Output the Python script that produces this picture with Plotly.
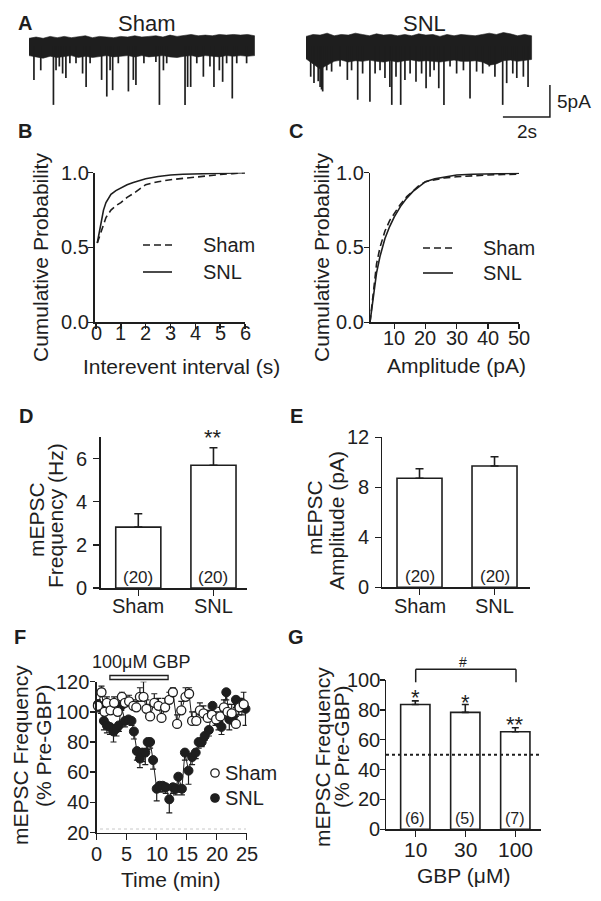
import plotly.graph_objects as go

W, H = 601, 901
FONT = "Liberation Sans, Arial, Helvetica, sans-serif"
INK = "#1e1e1e"

def fx(px):
    return px / W

def fy(py):
    return 1 - py / H

# ---------------- data ----------------
# Panel A: example traces (baseline noise envelope + miniature events)
env_t = [0.0, 0.3, 0.6, 0.9, 1.2, 1.5, 1.8, 2.1, 2.4, 2.7, 3.0, 3.3, 3.6, 3.9, 4.2, 4.5, 4.8,
         5.1, 5.4, 5.7, 6.0, 6.3, 6.6, 6.9, 7.2, 7.5, 7.8, 8.1, 8.4, 8.7, 9.0, 9.3, 9.6]
sham_env_up = [1.2, 1.4, 1.2, 1.5, 1.3, 1.5, 1.3, 1.4, 1.6, 1.3, 1.5, 1.4, 1.3, 1.5, 1.4, 1.6, 1.4,
               1.5, 1.6, 1.4, 1.7, 1.5, 1.6, 1.8, 1.6, 1.7, 1.6, 1.8, 1.7, 1.8, 1.7, 1.8, 1.6]
sham_env_lo = [-1.5, -1.7, -1.9, -1.6, -1.8, -1.7, -1.5, -1.8, -1.6, -1.8, -1.7, -1.5, -1.7, -1.6,
               -1.5, -1.7, -1.5, -1.7, -1.6, -1.5, -1.7, -1.8, -1.6, -1.5, -1.7, -1.5, -1.6, -1.7,
               -1.5, -1.6, -1.5, -1.6, -1.5]
snl_env_up = [1.5, 1.8, 1.7, 2.0, 1.6, 1.8, 1.7, 2.0, 1.8, 1.6, 1.9, 1.7, 1.8, 1.6, 1.8, 1.6, 1.9,
              1.7, 1.8, 1.5, 1.8, 1.6, 1.8, 1.7, 1.6, 1.8, 2.0, 1.8, 2.1, 1.9, 1.6, 1.8, 1.6]
snl_env_lo = [-2.0, -2.8, -3.6, -3.0, -2.4, -2.2, -2.5, -2.3, -2.4, -2.2, -2.4, -2.5, -2.3, -2.5,
              -2.3, -2.2, -2.4, -2.3, -2.4, -2.5, -2.3, -2.2, -2.4, -2.4, -2.3, -2.5, -3.0, -2.8,
              -2.3, -2.2, -2.4, -2.3, -2.1]
sham_evt_t = [0.21, 0.50, 1.04, 1.15, 1.29, 1.43, 1.57, 1.74, 2.00, 2.28, 2.43, 2.60, 3.09, 3.31,
              3.45, 3.56, 3.80, 4.23, 4.44, 4.55, 4.89, 5.40, 5.55, 5.72, 5.86, 6.64, 6.75, 6.88,
              7.14, 7.42, 7.70, 7.87, 8.10, 8.24, 8.41, 8.65, 8.84, 9.26]
sham_evt_pA = [-5.3, -3.8, -9.2, -3.8, -3.2, -4.3, -5.0, -2.7, -2.7, -4.3, -6.4, -2.7, -5.3, -7.9,
               -3.8, -6.9, -2.7, -7.1, -5.3, -6.1, -2.7, -2.5, -9.2, -3.8, -2.7, -9.2, -6.4, -6.4,
               -2.7, -4.8, -3.2, -6.4, -3.8, -5.6, -2.7, -8.2, -2.7, -2.7]
snl_evt_t = [0.20, 0.34, 0.52, 0.60, 0.66, 0.71, 0.88, 1.09, 1.45, 1.76, 1.94, 2.20, 2.41, 2.72,
             2.94, 3.15, 3.36, 3.57, 3.65, 3.83, 4.03, 4.21, 4.43, 4.68, 4.92, 5.11, 5.28, 5.45,
             5.65, 5.87, 6.13, 6.41, 6.70, 6.98, 7.26, 7.52, 7.80, 8.04, 8.37, 8.54, 8.80, 8.97,
             9.25, 9.45]
snl_evt_pA = [-4.8, -5.8, -5.5, -6.4, -6.8, -7.1, -3.8, -4.0, -3.2, -5.3, -3.8, -8.4, -4.3, -8.7,
              -4.3, -3.8, -5.0, -6.4, -9.2, -4.8, -9.2, -5.3, -4.3, -5.6, -4.3, -6.6, -4.8, -3.8,
              -6.6, -9.2, -3.2, -4.3, -3.8, -8.2, -4.0, -4.3, -3.2, -4.8, -9.2, -5.8, -4.3, -5.0,
              -4.8, -6.4]
scale_bar_s = 2
scale_bar_pA = 5

# Panel B: cumulative interevent interval
iei_s = [0.05, 0.2, 0.3, 0.4, 0.5, 0.6, 0.8, 1.0, 1.25, 1.5, 2.0, 2.5, 3.0, 3.5, 4.0, 4.5, 5.0, 5.5, 6.0]
iei_cum_sham = [0.53, 0.60, 0.66, 0.70, 0.725, 0.75, 0.78, 0.80, 0.835, 0.86, 0.92, 0.94, 0.953,
                0.963, 0.972, 0.98, 0.988, 0.994, 1.0]
iei_cum_snl = [0.53, 0.67, 0.75, 0.80, 0.83, 0.855, 0.88, 0.897, 0.92, 0.935, 0.96, 0.975, 0.985,
               0.99, 0.993, 0.996, 0.998, 1.0, 1.0]
iei_ticks = [0, 1, 2, 3, 4, 5, 6]
prob_ticks = [0, 0.5, 1.0]
prob_labels = ["0.0", "0.5", "1.0"]

# Panel C: cumulative amplitude
amp_pA = [2.2, 3.3, 4.3, 5.4, 7, 8.5, 10, 12, 14, 16, 18, 20, 23, 26, 30, 35, 40, 45, 50]
amp_cum_sham = [0, 0.22, 0.39, 0.50, 0.61, 0.68, 0.73, 0.79, 0.84, 0.88, 0.915, 0.94, 0.955,
                0.965, 0.973, 0.98, 0.985, 0.988, 0.99]
amp_cum_snl = [0, 0.17, 0.33, 0.44, 0.56, 0.64, 0.705, 0.775, 0.83, 0.875, 0.91, 0.94, 0.96,
               0.972, 0.985, 0.99, 0.993, 0.995, 0.996]
amp_ticks = [10, 20, 30, 40, 50]

# Panels D, E
groups = ["Sham", "SNL"]
freq_hz = [2.82, 5.69]
freq_sem = [0.62, 0.81]
freq_ticks = [0, 2, 4, 6]
amp_mean = [8.72, 9.70]
amp_sem = [0.77, 0.75]
amp_bar_ticks = [0, 4, 8, 12]
n_cells = [20, 20]

# Panel F: time course of GBP effect
sham_time = [0.2, 0.8, 1.3, 1.7, 2.3, 2.9, 3.5, 4.2, 4.7, 5.4, 6.1, 6.6, 7.2, 7.8, 8.3, 8.9, 9.6,
             10.3, 10.8, 11.4, 12.1, 12.7, 13.4, 14.1, 14.8, 15.4, 15.9, 16.6, 17.2, 17.8, 18.5,
             19.2, 19.9, 20.6, 21.2, 21.8, 22.5, 23.2, 23.8, 24.5]
sham_pct = [104, 113, 100, 106, 101, 106, 100, 110, 106, 107, 104, 103, 110, 110, 102, 97, 106,
            104, 96, 103, 108, 113, 92, 101, 110, 112, 94, 94, 101, 99, 96, 98, 95, 97, 103, 100,
            99, 92, 103, 105]
sham_sem = [4, 4, 5, 4, 4, 4, 5, 3, 4, 4, 4, 4, 6, 10, 6, 8, 6, 5, 8, 6, 5, 3, 6, 6, 6, 4, 6, 6,
            5, 5, 5, 5, 5, 6, 5, 5, 6, 5, 6, 8]
snl_time = [0.2, 0.7, 1.2, 1.7, 2.2, 2.8, 3.3, 3.7, 4.1, 4.7, 5.3, 5.8, 6.2, 6.7, 7.2, 7.6, 8.1,
            8.5, 8.9, 9.4, 10.0, 10.5, 11.0, 11.5, 12.1, 12.7, 13.2, 13.6, 14.2, 14.7, 15.3, 15.9,
            16.5, 17.0, 17.5, 18.0, 18.7, 19.3, 19.8, 20.3, 20.8, 21.6, 22.1, 22.6, 23.2, 23.7,
            24.2, 24.8]
snl_pct = [105, 103, 94, 91, 90, 87, 89, 91, 104, 94, 95, 94, 87, 74, 69, 73, 73, 80, 80, 68, 49,
           51, 51, 50, 42, 50, 49, 57, 49, 73, 61, 70, 73, 80, 80, 84, 88, 104, 96, 93, 90, 113,
           95, 97, 108, 104, 106, 102]
snl_sem = [5, 4, 6, 5, 5, 7, 5, 4, 3, 4, 3, 3, 5, 6, 6, 6, 8, 5, 4, 6, 8, 4, 4, 4, 9, 4, 4, 5, 4,
           5, 9, 5, 4, 4, 3, 3, 4, 4, 5, 5, 5, 5, 7, 5, 5, 6, 8, 11]
gbp_on_min, gbp_off_min = 2.2, 11.9
time_ticks = [0, 5, 10, 15, 20, 25]
pct_ticks_f = [20, 40, 60, 80, 100, 120]

# Panel G: dose response
gbp_doses = ["10", "30", "100"]
gbp_pct = [83.6, 78.3, 65.3]
gbp_sem = [2.4, 5.3, 2.7]
gbp_n = [6, 5, 7]
half_effect = 50
pct_ticks_g = [0, 20, 40, 60, 80, 100]

# ---------------- figure ----------------
fig = go.Figure()

def seg_xy(ts, amps):
    xs, ys = [], []
    for t, a in zip(ts, amps):
        xs += [t, t, None]
        ys += [0, a, None]
    return xs, ys

for (up, lo, et, ea, xa, ya) in [
    (sham_env_up, sham_env_lo, sham_evt_t, sham_evt_pA, "x", "y"),
    (snl_env_up, snl_env_lo, snl_evt_t, snl_evt_pA, "x2", "y2"),
]:
    fig.add_trace(go.Scatter(x=env_t + env_t[::-1], y=up + lo[::-1], fill="toself",
                             fillcolor=INK, line=dict(color=INK, width=0.6), mode="lines",
                             xaxis=xa, yaxis=ya, hoverinfo="skip"))
    sx, sy = seg_xy(et, ea)
    fig.add_trace(go.Scatter(x=sx, y=sy, mode="lines", line=dict(color=INK, width=1.7),
                             xaxis=xa, yaxis=ya, hoverinfo="skip"))

# scale bar (drawn in SNL trace axis)
sb_x1 = 10.38
sb_y0 = -11.09
fig.add_trace(go.Scatter(x=[sb_x1 - scale_bar_s, sb_x1, sb_x1],
                         y=[sb_y0, sb_y0, sb_y0 + scale_bar_pA], mode="lines",
                         line=dict(color=INK, width=1.5), xaxis="x2", yaxis="y2"))

# Panel B
fig.add_trace(go.Scatter(x=iei_s, y=iei_cum_sham, mode="lines",
                         line=dict(color=INK, width=1.6, dash="7px,4px"), xaxis="x3", yaxis="y3"))
fig.add_trace(go.Scatter(x=iei_s, y=iei_cum_snl, mode="lines",
                         line=dict(color=INK, width=1.6), xaxis="x3", yaxis="y3"))
# Panel C
fig.add_trace(go.Scatter(x=amp_pA, y=amp_cum_sham, mode="lines",
                         line=dict(color=INK, width=1.6, dash="7px,4px"), xaxis="x4", yaxis="y4"))
fig.add_trace(go.Scatter(x=amp_pA, y=amp_cum_snl, mode="lines",
                         line=dict(color=INK, width=1.6), xaxis="x4", yaxis="y4"))

def bar(xcats, vals, errs, xa, ya, width, cap):
    return go.Bar(x=xcats, y=vals, width=width, xaxis=xa, yaxis=ya,
                  marker=dict(color="white", line=dict(color=INK, width=1.6)),
                  error_y=dict(type="data", array=errs, arrayminus=[0] * len(errs),
                               symmetric=False, color=INK, thickness=1.6, width=cap))

fig.add_trace(bar(groups, freq_hz, freq_sem, "x5", "y5", 0.6, 4))
fig.add_trace(bar(groups, amp_mean, amp_sem, "x6", "y6", 0.6, 4))
fig.add_trace(bar(gbp_doses, gbp_pct, gbp_sem, "x8", "y8", 0.586, 3.5))

# Panel F
fig.add_trace(go.Scatter(x=snl_time, y=snl_pct, mode="lines+markers", xaxis="x7", yaxis="y7",
                         line=dict(color=INK, width=1),
                         marker=dict(symbol="circle", size=9, color=INK, line=dict(color=INK, width=1)),
                         error_y=dict(type="data", array=[0] * len(snl_sem), arrayminus=snl_sem,
                                      symmetric=False, color=INK, thickness=1.2, width=3),
                         cliponaxis=False))
fig.add_trace(go.Scatter(x=sham_time, y=sham_pct, mode="lines+markers", xaxis="x7", yaxis="y7",
                         line=dict(color=INK, width=1),
                         marker=dict(symbol="circle", size=9, color="white", line=dict(color=INK, width=1.3)),
                         error_y=dict(type="data", array=sham_sem, arrayminus=[0] * len(sham_sem),
                                      symmetric=False, color=INK, thickness=1.2, width=3),
                         cliponaxis=False))

# ---------------- axes ----------------
def ax_common(**kw):
    d = dict(showline=True, linecolor=INK, linewidth=1.5, ticks="outside", ticklen=5,
             tickwidth=1.5, tickcolor=INK, showgrid=False, zeroline=False, fixedrange=True,
             automargin=False, showticklabels=False)
    d.update(kw)
    return d

def xdom(a, b):
    return [fx(a), fx(b)]

def ydom(top, bottom):
    return [fy(bottom), fy(top)]

hidden = dict(visible=False, automargin=False, fixedrange=True)

layout = dict(
    template="none",
    width=W, height=H, autosize=False, margin=dict(l=0, r=0, t=0, b=0, pad=0),
    paper_bgcolor="white", plot_bgcolor="rgba(0,0,0,0)", showlegend=False,
    font=dict(family=FONT, color=INK),
    # panel A
    xaxis=dict(domain=xdom(29, 255), range=[0, 9.617], anchor="y", **hidden),
    yaxis=dict(domain=ydom(20, 130), range=[-13.125, 4.0625], anchor="x", **hidden),
    xaxis2=dict(domain=xdom(306, 560), range=[0, 10.809], anchor="y2", **hidden),
    yaxis2=dict(domain=ydom(20, 130), range=[-13.125, 4.0625], anchor="x2", **hidden),
    # panel B
    xaxis3=ax_common(domain=xdom(94.8, 245), range=[-0.05, 6.0], tickvals=iei_ticks, anchor="y3"),
    yaxis3=ax_common(domain=ydom(172.7, 322.3), range=[0, 1], tickvals=prob_ticks, anchor="x3"),
    # panel C
    xaxis4=ax_common(domain=xdom(370, 519), range=[2.2, 50], tickvals=amp_ticks, anchor="y4"),
    yaxis4=ax_common(domain=ydom(172.7, 322.3), range=[0, 1], tickvals=prob_ticks, anchor="x4"),
    # panel D
    xaxis5=ax_common(domain=xdom(100.7, 247.3), range=[-0.5, 1.45], anchor="y5", ticklen=6,
                     type="category"),
    yaxis5=ax_common(domain=ydom(437, 588), range=[0, 7], tickvals=freq_ticks, anchor="x5",
                     ticklen=6),
    # panel E
    xaxis6=ax_common(domain=xdom(382, 530), range=[-0.5, 1.473], anchor="y6", ticklen=6,
                     type="category"),
    yaxis6=ax_common(domain=ydom(437.3, 587.3), range=[0, 12], tickvals=amp_bar_ticks,
                     anchor="x6", ticklen=6),
    # panel F
    xaxis7=ax_common(domain=xdom(96.7, 246.7), range=[0, 25], tickvals=time_ticks,
                     anchor="y7", ticklen=6),
    yaxis7=ax_common(domain=ydom(681.7, 832.5), range=[20, 120], tickvals=pct_ticks_f,
                     anchor="x7"),
    # panel G
    xaxis8=ax_common(domain=xdom(386, 540.7), range=[-0.586, 2.508], anchor="y8", ticklen=6,
                     type="category"),
    yaxis8=ax_common(domain=ydom(680, 829.3), range=[0, 100], tickvals=pct_ticks_g,
                     anchor="x8"),
)

# ---------------- annotations ----------------
anns = []

def ann(text, x, y, size=20, xanchor="center", yanchor="middle", bold=False, angle=0):
    if bold:
        text = "<b>" + text + "</b>"
    anns.append(dict(text=text, x=fx(x), y=fy(y), xref="paper", yref="paper", showarrow=False,
                     xanchor=xanchor, yanchor=yanchor, textangle=angle,
                     font=dict(family=FONT, size=size, color=INK)))

def xtick_labels(xref, vals, texts, y_px, size=20):
    for v, t in zip(vals, texts):
        anns.append(dict(text=t, x=v, xref=xref, y=fy(y_px), yref="paper", showarrow=False,
                         xanchor="center", yanchor="middle",
                         font=dict(family=FONT, size=size, color=INK)))

def ytick_labels(yref, vals, texts, x_px, size=20):
    for v, t in zip(vals, texts):
        anns.append(dict(text=t, x=fx(x_px), xref="paper", y=v, yref=yref, showarrow=False,
                         xanchor="right", yanchor="middle",
                         font=dict(family=FONT, size=size, color=INK)))

# tick labels (category axes addressed by category index)
xtick_labels("x3", iei_ticks, [str(v) for v in iei_ticks], 333)
ytick_labels("y3", prob_ticks, prob_labels, 91)
xtick_labels("x4", amp_ticks, [str(v) for v in amp_ticks], 338)
ytick_labels("y4", prob_ticks, prob_labels, 366)
xtick_labels("x5", list(range(len(groups))), groups, 606)
ytick_labels("y5", freq_ticks, [str(v) for v in freq_ticks], 89)
xtick_labels("x6", list(range(len(groups))), groups, 606)
ytick_labels("y6", amp_bar_ticks, [str(v) for v in amp_bar_ticks], 371)
xtick_labels("x7", time_ticks, [str(v) for v in time_ticks], 854)
ytick_labels("y7", pct_ticks_f, [str(v) for v in pct_ticks_f], 91)
xtick_labels("x8", list(range(len(gbp_doses))), gbp_doses, 849, size=21)
ytick_labels("y8", pct_ticks_g, [str(v) for v in pct_ticks_g], 382)

# panel letters
for letter, x, y in [("A", 16, 23), ("B", 16, 131), ("C", 287, 131), ("D", 17, 416),
                     ("E", 288, 416), ("F", 12, 637), ("G", 286, 637)]:
    ann(letter, x, y, size=20, xanchor="left", bold=True)

# panel A
ann("Sham", 146, 24, size=22)
ann("SNL", 424, 24, size=22)
ann("5pA", 555, 102, size=19, xanchor="left")
ann("2s", 527, 131, size=19)

# panel B / C titles
ann("Cumulative Probability", 40, 258, size=21, angle=-90)
ann("Interevent interval (s)", 181, 366, size=21)
ann("Cumulative Probability", 321, 258, size=21, angle=-90)
ann("Amplitude (pA)", 456, 365, size=21)

# legends B/C (text)
ann("Sham", 201, 245, size=20, xanchor="left")
ann("SNL", 201, 272, size=20, xanchor="left")
ann("Sham", 481, 248, size=20, xanchor="left")
ann("SNL", 481, 273, size=20, xanchor="left")

# D / E titles
ann("mEPSC", 36, 520, size=21, angle=-90)
ann("Frequency (Hz)", 55, 516, size=21, angle=-90)
ann("mEPSC", 314, 518, size=21, angle=-90)
ann("Amplitude (pA)", 336, 520, size=21, angle=-90)
ann("**", 213, 437, size=22)
for x, n in [(138.3, n_cells[0]), (213.3, n_cells[1])]:
    ann("(%d)" % n, x, 577, size=17)
for x, n in [(419.5, n_cells[0]), (494.5, n_cells[1])]:
    ann("(%d)" % n, x, 576, size=17)

# F
ann("mEPSC Frequency", 20, 755, size=21, angle=-90)
ann("(% Pre-GBP)", 43, 746, size=21, angle=-90)
ann("Time (min)", 171, 879, size=21)
ann("100\u03bcM GBP", 141, 662, size=18)
ann("Sham", 223, 773, size=20, xanchor="left")
ann("SNL", 223, 798, size=20, xanchor="left")

# G
ann("mEPSC Frequency", 322, 757, size=21, angle=-90)
ann("(% Pre-GBP)", 341, 747, size=21, angle=-90)
ann("GBP (\u03bcM)", 463, 875, size=21)
ann("#", 463, 662, size=14)
ann("*", 415.3, 697, size=22)
ann("*", 465.3, 702, size=22)
ann("**", 515.3, 724, size=22)
for x, n in [(415.3, gbp_n[0]), (465.3, gbp_n[1]), (515.3, gbp_n[2])]:
    ann("(%d)" % n, x, 818, size=16)

layout["annotations"] = anns

# ---------------- shapes ----------------
shapes = []

def pline(x0, y0, x1, y1, dash="solid", width=1.6, color=INK):
    shapes.append(dict(type="line", xref="paper", yref="paper", x0=fx(x0), y0=fy(y0),
                       x1=fx(x1), y1=fy(y1), line=dict(color=color, width=width, dash=dash)))

# legend samples B / C
pline(143, 245, 172, 245, dash="7px,4px")
pline(143, 272, 172, 272)
pline(423, 248, 453, 248, dash="7px,4px")
pline(423, 273, 453, 273)

# F: GBP application bar
shapes.append(dict(type="rect", xref="x7", yref="paper", x0=gbp_on_min, x1=gbp_off_min,
                   y0=fy(679.5), y1=fy(675.5), line=dict(color=INK, width=1.3), fillcolor="white"))
# F faint dotted line
pline(100, 829, 246, 829, dash="dot", width=1, color="#c8c8c8")
# F legend markers
for cy, fill in [(773, "white"), (798, INK)]:
    shapes.append(dict(type="circle", xref="paper", yref="paper", x0=fx(210.8), x1=fx(219.2),
                       y0=fy(cy + 4.2), y1=fy(cy - 4.2), line=dict(color=INK, width=1.3),
                       fillcolor=fill))

# G: 50% reference line and bracket
shapes.append(dict(type="line", xref="paper", yref="y8", x0=fx(386), x1=fx(540.7),
                   y0=half_effect, y1=half_effect, line=dict(color=INK, width=2, dash="dot")))
pline(415.7, 682.3, 415.7, 669.3, width=1.5)
pline(415.7, 669.3, 516, 669.3, width=1.5)
pline(516, 669.3, 516, 682.3, width=1.5)

layout["shapes"] = shapes

fig.update_layout(**layout)
fig.write_html("out.html", config={"displayModeBar": False, "staticPlot": True},
               post_script="document.body.style.margin='0';document.body.style.padding='0';"
                           "document.body.style.overflow='hidden';")
